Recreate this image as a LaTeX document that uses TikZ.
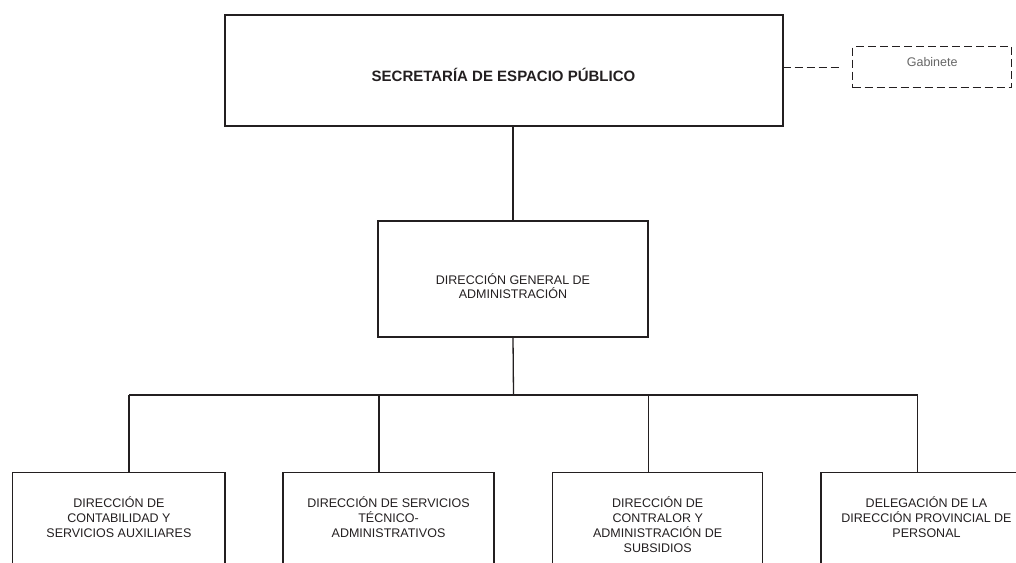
\documentclass[tikz,border=0pt]{standalone}
\usepackage{fontspec}
\setmainfont{Liberation Sans}
\usepackage{tikz}

\definecolor{ink}{HTML}{231F20}
\newcommand{\boxtext}[2]{\raisebox{#1}[0pt][0pt]{\begin{tabular}[t]{@{}c@{}}#2\end{tabular}}}

\begin{document}
\begin{tikzpicture}
            [x=1pt,y=-1pt,thick,line width=1.3pt,draw=ink,
             every node/.style={draw=ink,rectangle,inner sep=0pt,outer sep=0pt,text=ink,align=center},
             bigbox/.style={line width=2pt,font=\fontsize{15}{18}\selectfont\bfseries},
             midbox/.style={line width=2pt,font=\fontsize{12.5}{12.5}\selectfont},
             lowbox/.style={line width=1.3pt,anchor=north,minimum width=211pt,minimum height=100pt,
                            font=\fontsize{12.5}{15}\selectfont},
             gabbox/.style={dashed,dash pattern=on 8pt off 4pt,line width=1.3pt,text=black!60,
                            font=\fontsize{12.5}{14}\selectfont}]
            \clip (0,0) rectangle (1016,562);
            \node[bigbox,minimum width=558pt,minimum height=111.5pt] (sec) at (503.5,70.3) {\boxtext{-11.3pt}{SECRETARÍA DE ESPACIO PÚBLICO}};
            \node[gabbox,minimum width=159pt,minimum height=41pt] (gab) at (932.2,67.2) {\boxtext{0.5pt}{Gabinete}};
            \node[midbox,minimum width=269.4pt,minimum height=116.3pt] (dga) at (513,279.2) {\boxtext{-4.8pt}{DIRECCIÓN GENERAL DE\\ADMINISTRACIÓN}};
            \node[lowbox,minimum width=212.3pt] (b1) at (118.9,472.7) {\boxtext{15.2pt}{DIRECCIÓN DE\\CONTABILIDAD Y\\SERVICIOS AUXILIARES}};
            \node[lowbox] (b2) at (388.5,472.7) {\boxtext{15.2pt}{DIRECCIÓN DE SERVICIOS\\TÉCNICO-\\ADMINISTRATIVOS}};
            \node[lowbox,minimum width=210pt] (b3) at (657.7,472.7) {\boxtext{15.2pt}{DIRECCIÓN DE\\CONTRALOR Y\\ADMINISTRACIÓN DE\\SUBSIDIOS}};
            \node[lowbox] (b4) at (926.5,472.7) {\boxtext{15.2pt}{DELEGACIÓN DE LA\\DIRECCIÓN PROVINCIAL DE\\PERSONAL}};
            \coordinate (bus) at (513.5,395);
            \coordinate (d1) at (129,395);
            \coordinate (d2) at (379,395);
            \coordinate (d3) at (648.3,395);
            \coordinate (d4) at (917.7,395);
            \draw[dashed,dash pattern=on 8pt off 4pt,shorten >=10.5pt] (sec.east |- gab.west) -- (gab.west);
            \draw (dga.north) -- (dga.north |- sec.south);
            \draw (dga.south) -- (bus);
            \draw (d1) -- (d4);
            \draw (d1) -- (d1 |- b1.north);
            \draw (d2) -- (d2 |- b2.north);
            \draw (d3) -- (d3 |- b3.north);
            \draw (d4) -- (d4 |- b4.north);
        \end{tikzpicture}
\end{document}
